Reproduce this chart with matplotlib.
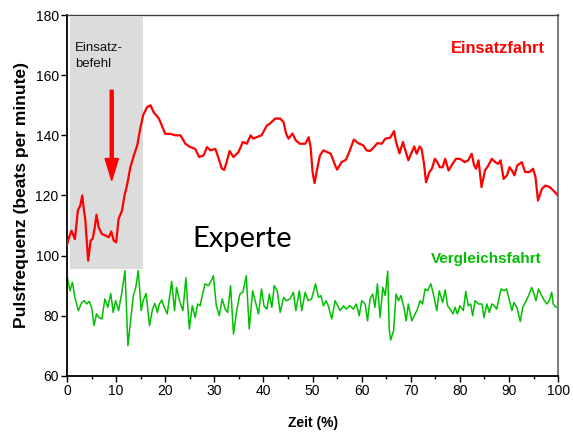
import matplotlib
matplotlib.use("Agg")
import matplotlib.pyplot as plt
from matplotlib.patches import Rectangle
from matplotlib.ticker import MultipleLocator

# Einsatzfahrt (red) - Zeit in %, Puls in bpm
einsatz_zeit = [0.0, 0.4, 0.9, 1.6, 2.2, 2.7, 3.1, 3.4, 3.7, 4.3, 4.8, 5.2, 5.6, 6.0, 6.45,
                7.1, 7.8, 8.5, 9.0, 9.5, 10.0, 10.5, 11.2, 11.7, 12.2, 12.9, 13.6, 14.3, 14.9,
                15.5, 16.3, 17.0, 17.6, 18.7, 19.3, 20.0, 21.0, 22.1, 23.1, 24.1, 25.1, 26.1,
                26.9, 27.8, 28.5, 29.2, 30.2, 30.9, 31.5, 32.0, 32.5, 33.1, 33.9, 34.9, 35.8,
                36.6, 37.4, 37.9, 38.6, 39.6, 40.7, 41.3, 42.4, 43.4, 44.1, 44.6, 45.1, 45.9,
                46.6, 47.4, 48.5, 49.2, 49.6, 50.0, 50.4, 51.0, 51.5, 52.2, 53.0, 53.7, 54.6,
                55.0, 55.9, 56.8, 57.6, 58.4, 59.3, 60.3, 61.0, 61.7, 62.5, 63.2, 64.1, 64.8,
                65.8, 66.6, 67.0, 67.7, 68.4, 68.8, 69.5, 70.2, 70.7, 71.2, 71.8, 72.2, 72.7,
                73.1, 73.8, 74.3, 74.9, 75.4, 75.9, 76.5, 77.0, 77.7, 78.3, 79.2, 80.0, 81.0,
                81.7, 82.4, 82.9, 83.3, 83.8, 84.4, 85.1, 85.8, 86.5, 87.2, 87.8, 88.3, 88.9,
                89.6, 90.1, 90.6, 91.1, 91.7, 92.6, 93.3, 94.2, 94.9, 95.4, 95.9, 96.7, 97.4,
                98.3, 99.0, 100.0]
einsatz_puls = [103.5, 106.0, 108.3, 105.5, 115.0, 116.7, 120.0, 115.5, 112.2, 98.3, 105.0,
                105.5, 108.9, 113.6, 109.4, 107.2, 106.7, 106.1, 108.0, 105.0, 104.4, 112.2,
                115.0, 120.0, 123.3, 129.4, 133.3, 136.7, 142.2, 146.7, 149.4, 150.0, 147.8,
                145.6, 143.3, 140.5, 140.5, 140.0, 140.0, 137.2, 136.1, 135.5, 132.8, 133.3,
                136.1, 135.0, 135.5, 132.2, 129.0, 128.5, 131.1, 134.8, 132.8, 134.4, 137.8,
                137.2, 140.0, 138.9, 139.4, 140.0, 143.3, 143.9, 145.6, 145.6, 144.4, 140.6,
                138.9, 140.6, 138.3, 137.2, 137.2, 139.4, 136.1, 127.8, 124.1, 129.4, 133.3,
                135.0, 134.4, 133.9, 130.0, 128.6, 131.1, 131.9, 135.0, 138.6, 137.4, 136.7,
                135.0, 134.8, 136.1, 137.4, 137.2, 138.9, 139.2, 141.4, 137.8, 134.0, 137.8,
                135.5, 131.7, 134.4, 136.3, 133.9, 136.3, 135.5, 130.5, 124.4, 127.8, 128.9,
                132.2, 131.1, 129.4, 129.4, 132.2, 128.3, 130.0, 132.2, 132.2, 131.1, 131.7,
                133.9, 130.0, 128.9, 131.7, 122.8, 128.3, 130.0, 132.2, 131.1, 130.5, 131.7,
                125.5, 126.7, 129.4, 128.3, 126.7, 130.0, 131.1, 127.8, 127.8, 128.9, 126.1,
                118.3, 122.2, 123.3, 122.8, 121.7, 120.0]

# Vergleichsfahrt (green)
vergleich_zeit = [0.0, 0.6, 1.1, 1.6, 2.3, 3.0, 3.5, 4.0, 4.5, 5.0, 5.5, 6.0, 6.5, 7.1, 7.7,
                  8.3, 8.9, 9.4, 9.9, 10.5, 11.1, 11.8, 12.4, 13.0, 13.5, 14.0, 14.5, 15.1,
                  15.5, 16.1, 16.8, 17.4, 17.9, 18.4, 18.8, 19.3, 19.8, 20.4, 21.3, 21.9, 22.3,
                  22.9, 23.6, 24.2, 24.9, 25.5, 26.1, 26.6, 27.1, 27.6, 28.1, 28.8, 29.3, 29.8,
                  30.4, 31.0, 31.6, 32.2, 32.7, 33.3, 33.9, 34.6, 35.2, 35.8, 36.5, 37.1, 37.8,
                  38.3, 39.0, 39.6, 40.1, 40.7, 41.2, 41.7, 42.2, 42.8, 43.4, 44.1, 44.7, 45.4,
                  46.1, 46.6, 47.3, 47.8, 48.5, 49.1, 49.8, 50.6, 51.2, 51.7, 52.2, 52.75, 53.2,
                  53.9, 54.6, 55.1, 55.6, 56.3, 56.9, 57.6, 58.3, 58.9, 59.5, 60.0, 60.7, 61.2,
                  61.7, 62.25, 62.7, 63.2, 63.75, 64.3, 64.8, 65.3, 65.6, 65.9, 66.5, 67.0,
                  67.5, 68.0, 68.6, 69.05, 69.5, 70.2, 70.9, 71.35, 71.9, 72.4, 72.9, 73.4,
                  74.1, 74.6, 75.3, 75.8, 76.5, 77.0, 77.5, 78.0, 78.6, 79.0, 79.5, 80.0, 80.7,
                  81.2, 81.7, 82.2, 82.6, 83.1, 83.8, 84.5, 84.9, 85.5, 86.0, 86.5, 87.0, 87.5,
                  88.0, 88.4, 89.0, 89.5, 90.1, 90.6, 91.0, 91.6, 92.3, 92.8, 93.5, 94.0, 94.6,
                  95.0, 95.5, 96.0, 96.5, 97.0, 97.7, 98.2, 98.7, 99.0, 99.6, 100.0]
vergleich_puls = [93.3, 88.3, 91.1, 86.1, 81.7, 84.4, 85.0, 83.9, 84.8, 82.8, 76.7, 80.6, 79.4,
                  78.9, 85.6, 82.8, 87.4, 81.1, 85.0, 81.7, 87.2, 95.0, 70.0, 79.4, 86.7, 89.4,
                  95.0, 81.7, 85.0, 87.4, 76.7, 82.2, 84.1, 81.1, 83.9, 85.2, 82.8, 80.6, 91.4,
                  81.7, 89.4, 85.0, 81.7, 92.6, 75.6, 83.3, 79.4, 83.9, 83.3, 87.2, 90.6, 90.0,
                  91.4, 93.3, 83.3, 80.0, 85.6, 82.2, 81.1, 90.0, 73.9, 82.2, 87.2, 87.8, 93.3,
                  75.6, 88.3, 85.0, 80.6, 88.9, 83.3, 82.2, 87.2, 82.8, 90.0, 88.3, 81.1, 86.1,
                  85.0, 85.6, 87.8, 81.7, 88.3, 81.7, 87.8, 85.0, 85.6, 90.6, 86.1, 86.7, 83.3,
                  85.0, 83.3, 78.9, 85.0, 83.3, 81.7, 83.3, 82.2, 83.3, 82.2, 83.9, 80.0, 85.0,
                  83.9, 78.3, 85.6, 87.2, 82.8, 90.6, 79.4, 89.4, 86.7, 94.8, 75.6, 71.9, 75.0,
                  87.2, 85.0, 86.7, 82.8, 78.3, 83.9, 78.3, 80.6, 82.2, 85.0, 83.9, 88.9, 88.3,
                  90.6, 87.2, 81.7, 88.3, 84.4, 88.6, 83.3, 82.2, 80.6, 82.8, 80.6, 83.3, 81.7,
                  88.1, 83.3, 83.9, 80.0, 85.0, 83.9, 83.9, 79.4, 83.9, 81.1, 83.9, 83.3, 82.2,
                  86.1, 88.9, 88.3, 88.9, 85.0, 81.7, 84.4, 82.8, 78.1, 82.8, 85.0, 86.7, 89.4,
                  87.8, 85.0, 88.9, 87.2, 85.6, 83.9, 85.0, 87.8, 83.9, 82.8, 83.0]

RED = '#FF0000'
GREEN = '#00C000'

plt.rcParams['font.family'] = ['Liberation Sans', 'DejaVu Sans']

fig = plt.figure(figsize=(5.73, 4.32), dpi=100)
ax = fig.add_axes([0.117, 0.130, 0.857, 0.835])

# grey box marking the alarm phase
ax.add_patch(Rectangle((0.6, 95.5), 14.8, 84.0, facecolor='#DCDCDC', edgecolor='none', zorder=0))

ax.plot(vergleich_zeit, vergleich_puls, color=GREEN, lw=1.1, zorder=2)
ax.plot(einsatz_zeit, einsatz_puls, color=RED, lw=1.6, zorder=3)

# arrow for "Einsatzbefehl"
ax.arrow(9.1, 155, 0, -30, width=0.6, head_width=2.7, head_length=7.3,
         length_includes_head=True, color=RED, zorder=4)

ax.text(1.6, 171, 'Einsatz-\nbefehl', fontsize=9.5, va='top', ha='left', linespacing=1.45,
        color='#111111')
ax.text(97.3, 169, 'Einsatzfahrt', color=RED, fontsize=11.8, fontweight='bold',
        ha='right', va='center')
ax.text(96.7, 99, 'Vergleichsfahrt', color=GREEN, fontsize=11, fontweight='bold',
        ha='right', va='center')
ax.text(35.6, 105.5, 'Experte', fontsize=21, family=['Lato', 'DejaVu Sans'],
        ha='center', va='center')

ax.set_xlim(0, 100)
ax.set_ylim(60, 180)
ax.xaxis.set_major_locator(MultipleLocator(10))
ax.xaxis.set_minor_locator(MultipleLocator(5))
ax.yaxis.set_major_locator(MultipleLocator(20))

ax.tick_params(axis='both', which='major', direction='out', length=4, width=1,
               labelsize=10, pad=2)
ax.tick_params(axis='x', which='minor', direction='out', length=2.5, width=1)
ax.tick_params(axis='y', which='minor', left=False)

for side in ['left', 'bottom']:
    ax.spines[side].set_linewidth(1.3)
    ax.spines[side].set_color('black')
ax.spines['top'].set_color('#404040')
ax.spines['top'].set_linewidth(1.0)
ax.spines['right'].set_color('#808080')
ax.spines['right'].set_linewidth(1.5)

ax.set_xlabel('Zeit (%)', fontsize=10, fontweight='bold', labelpad=13)
ax.set_ylabel('Pulsfrequenz (beats per minute)', fontsize=12.5, fontweight='bold', labelpad=5)

fig.savefig('out.png', dpi=100)
